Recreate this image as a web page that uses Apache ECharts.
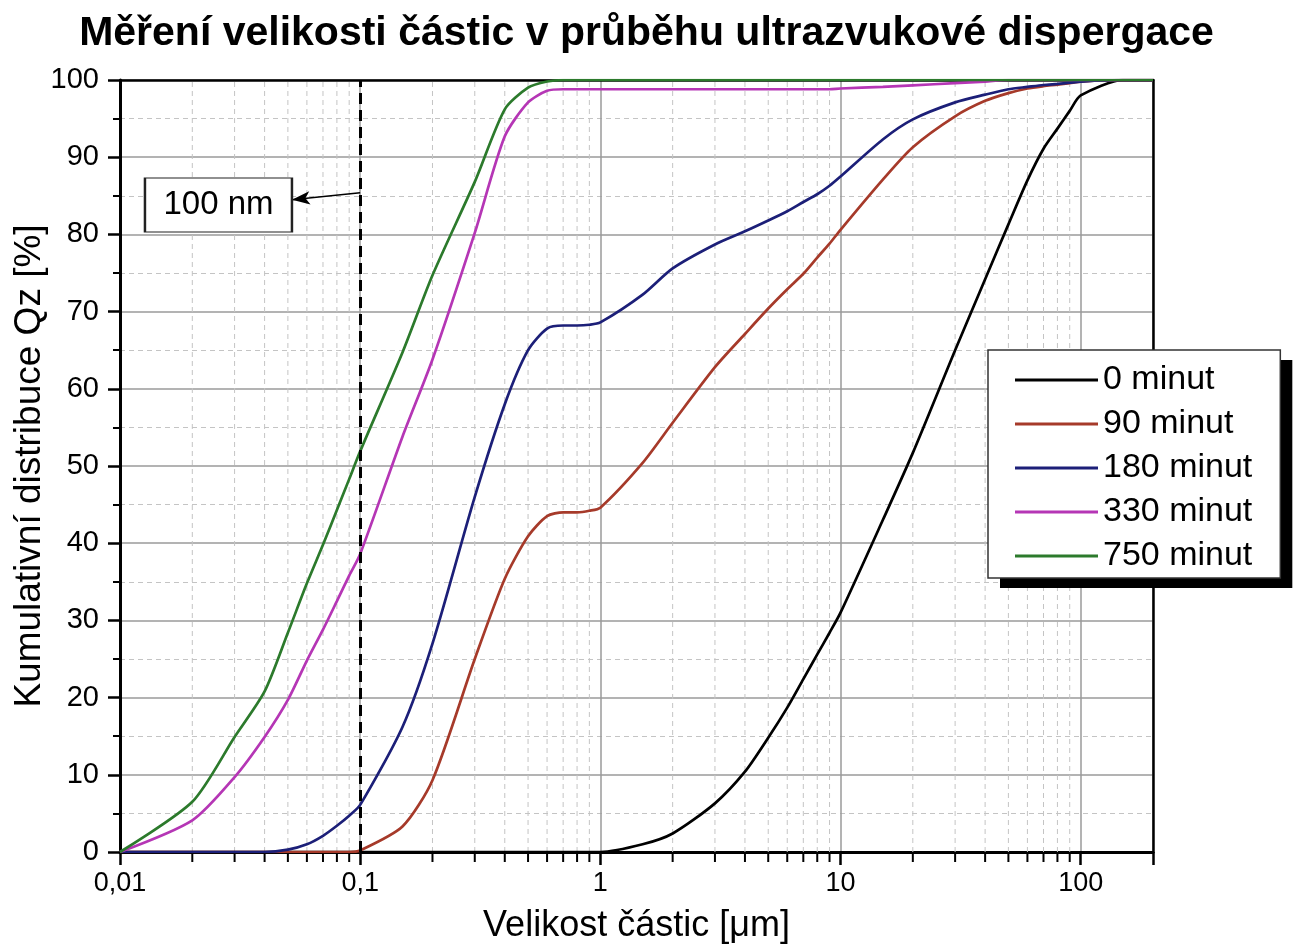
<!DOCTYPE html>
<html>
<head>
<meta charset="utf-8">
<title>Měření velikosti částic v průběhu ultrazvukové dispergace</title>
<script src="https://cdn.jsdelivr.net/npm/echarts@6/dist/echarts.min.js"></script>
<style>
  html, body { margin: 0; padding: 0; background: #fff; }
  #chart { width: 1293px; height: 952px; }
</style>
</head>
<body>
<div id="chart"></div>
<script>
// Particle size classes [µm]
const sizes = [0.01, 0.02, 0.03, 0.04, 0.05, 0.06, 0.07, 0.08, 0.09, 0.1,
  0.15, 0.2, 0.3, 0.4, 0.5, 0.6, 0.7, 0.8, 0.9, 1,
  1.5, 2, 3, 4, 5, 6, 7, 8, 9, 10,
  15, 20, 30, 40, 50, 60, 70, 80, 90, 100,
  150, 200];

// Cumulative distribution Qz [%] after each dispersion time
const q0 = [0, 0, 0, 0, 0, 0, 0, 0, 0, 0,
  0, 0, 0, 0, 0, 0, 0, 0, 0, 0,
  1.0, 2.4, 6.3, 10.4, 14.8, 18.7, 22.4, 25.6, 28.4, 31.0,
  43.0, 51.7, 65.0, 74.2, 81.3, 87.0, 91.1, 93.7, 96.0, 98.0,
  100, 100];
const q90 = [0, 0, 0, 0, 0, 0, 0, 0, 0, 0.2,
  3.3, 9.3, 25.0, 35.4, 40.9, 43.5, 44.0, 44.0, 44.2, 44.6,
  50.4, 55.6, 62.8, 67.1, 70.4, 72.9, 74.9, 77.0, 78.8, 80.6,
  87.1, 91.3, 95.3, 97.3, 98.3, 98.9, 99.2, 99.4, 99.6, 99.8,
  100, 100];
const q180 = [0, 0, 0, 0, 0.3, 1.0, 2.1, 3.4, 4.7, 6.1,
  16.2, 27.0, 46.0, 58.0, 65.0, 67.8, 68.2, 68.2, 68.3, 68.6,
  72.2, 75.6, 78.7, 80.4, 81.8, 83.0, 84.2, 85.2, 86.3, 87.5,
  92.3, 94.9, 97.1, 98.1, 98.8, 99.1, 99.35, 99.5, 99.65, 99.8,
  100, 100];
const q330 = [0, 4.1, 9.7, 14.9, 19.7, 24.8, 28.8, 32.5, 35.8, 38.6,
  53.8, 63.8, 80.2, 92.7, 97.1, 98.6, 98.8, 98.8, 98.8, 98.8,
  98.8, 98.8, 98.8, 98.8, 98.8, 98.8, 98.8, 98.8, 98.8, 98.9,
  99.1, 99.3, 99.6, 99.8, 100, 100, 100, 100, 100, 100,
  100, 100];
const q750 = [0, 6.5, 14.9, 20.8, 28.4, 34.8, 39.8, 44.3, 48.3, 51.9,
  64.7, 74.7, 86.8, 96.2, 99.0, 99.8, 100, 100, 100, 100,
  100, 100, 100, 100, 100, 100, 100, 100, 100, 100,
  100, 100, 100, 100, 100, 100, 100, 100, 100, 100,
  100, 100];

const seriesNames = ['0 minut', '90 minut', '180 minut', '330 minut', '750 minut'];
const seriesValues = [q0, q90, q180, q330, q750];
const seriesColors = ['#000000', '#a63a2a', '#1c1f78', '#b536b5', '#2c7a2c'];

// Intermediate decade positions for the dashed minor grid
const minorSizes = [0.02, 0.03, 0.04, 0.05, 0.06, 0.07, 0.08, 0.09,
  0.2, 0.3, 0.4, 0.5, 0.6, 0.7, 0.8, 0.9,
  2, 3, 4, 5, 6, 7, 8, 9,
  20, 30, 40, 50, 60, 70, 80, 90];

// Marker for the 100 nm boundary and its callout
const boundarySize = 0.1;
const calloutArrow = [[0.1, 85.4], [0.052, 84.5]];
const calloutBox = [0.0257, 83.8];
const calloutText = '100 nm';

const FONT = '"Liberation Sans", Arial, Helvetica, sans-serif';

function decadeLabel(v) {
  const e = Math.round(Math.log10(v));
  if (Math.abs(Math.log10(v) - e) > 1e-6) return '';
  if (e < 0) return '0,' + '0'.repeat(-e - 1) + '1';
  return String(Math.pow(10, e));
}

function renderMinor(params, api) {
  const v = api.value(0);
  const bot = api.coord([v, 0]);
  const top = api.coord([v, 100]);
  return {
    type: 'group',
    children: [
      { type: 'line', shape: { x1: bot[0], y1: bot[1], x2: top[0], y2: top[1] },
        style: { stroke: '#c4c4c4', lineWidth: 1, lineDash: [5, 4] } },
      { type: 'line', shape: { x1: bot[0], y1: bot[1], x2: bot[0], y2: bot[1] + 10 },
        style: { stroke: '#000', lineWidth: 2 } }
    ]
  };
}

const chart = echarts.init(document.getElementById('chart'), null, { renderer: 'canvas' });

const lineSeries = seriesNames.map((name, k) => ({
  name: name,
  type: 'line',
  data: sizes.map((x, i) => [x, seriesValues[k][i]]),
  color: seriesColors[k],
  symbol: 'none',
  showSymbol: false,
  smooth: 0.25,
  z: 3,
  lineStyle: { width: 2.7, color: seriesColors[k] }
}));

// Shared legend layout; the second copy is a solid block drawn behind as a drop shadow
const legendBase = {
  orient: 'vertical',
  data: seriesNames,
  icon: 'rect',
  itemWidth: 83,
  itemHeight: 3,
  itemGap: 10,
  padding: [13, 28, 5, 27],
  borderRadius: 0,
  selectedMode: false,
  textStyle: { fontFamily: FONT, fontSize: 34, color: '#000', lineHeight: 34 }
};

const option = {
  animation: false,
  backgroundColor: '#fff',
  textStyle: { fontFamily: FONT },
  title: {
    text: 'Měření velikosti částic v průběhu ultrazvukové dispergace',
    left: 'center',
    top: 8,
    textStyle: { fontFamily: FONT, fontSize: 41, fontWeight: 'bold', color: '#000' }
  },
  grid: { left: 120, right: 140, top: 80, bottom: 100, containLabel: false, outerBoundsMode: 'none' },
  legend: [
    Object.assign({}, legendBase, {
      left: 1000,
      top: 360,
      z: 3,
      backgroundColor: '#000',
      borderWidth: 0,
      itemStyle: { opacity: 0 },
      lineStyle: { opacity: 0 },
      textStyle: Object.assign({}, legendBase.textStyle, { color: 'rgba(0,0,0,0)' })
    }),
    Object.assign({}, legendBase, {
      left: 988,
      top: 350,
      z: 4,
      backgroundColor: '#fff',
      borderColor: '#333',
      borderWidth: 1.5
    })
  ],
  xAxis: [{
    type: 'log',
    logBase: 10,
    min: 0.01,
    max: 200,
    name: 'Velikost částic [μm]',
    nameLocation: 'middle',
    nameGap: 56,
    nameMoveOverlap: false,
    nameTextStyle: { fontFamily: FONT, fontSize: 36, color: '#000' },
    axisLine: { show: true, onZero: false, lineStyle: { color: '#000', width: 3 } },
    axisTick: { show: true, length: 13, lineStyle: { color: '#000', width: 2.5 } },
    axisLabel: { formatter: decadeLabel, fontFamily: FONT, fontSize: 27, color: '#000', margin: 18 },
    splitLine: { show: true, lineStyle: { color: '#9a9a9a', width: 1.5 } }
  }, {
    type: 'log',
    logBase: 10,
    min: 0.01,
    max: 200,
    position: 'top',
    axisLine: { show: true, onZero: false, lineStyle: { color: '#000', width: 2.5 } },
    axisTick: { show: false },
    axisLabel: { show: false },
    splitLine: { show: false }
  }],
  yAxis: [{
    type: 'value',
    min: 0,
    max: 100,
    interval: 10,
    name: 'Kumulativní distribuce Qz [%]',
    nameLocation: 'middle',
    nameGap: 72,
    nameMoveOverlap: false,
    nameTextStyle: { fontFamily: FONT, fontSize: 37, color: '#000' },
    axisLine: { show: true, lineStyle: { color: '#000', width: 3 } },
    axisTick: { show: true, length: 12, lineStyle: { color: '#000', width: 2.5 } },
    minorTick: { show: true, splitNumber: 2, length: 7, lineStyle: { color: '#000', width: 2 } },
    minorSplitLine: { show: true, lineStyle: { color: '#c4c4c4', type: [5, 4], width: 1 } },
    splitLine: { show: true, lineStyle: { color: '#9a9a9a', width: 1.5 } },
    axisLabel: { fontFamily: FONT, fontSize: 29, color: '#000', margin: 21 }
  }, {
    type: 'value',
    min: 0,
    max: 100,
    position: 'right',
    axisLine: { show: true, lineStyle: { color: '#000', width: 2.5 } },
    axisTick: { show: false },
    axisLabel: { show: false },
    splitLine: { show: false }
  }],
  series: [{
    type: 'custom',
    silent: true,
    clip: false,
    z: 1,
    renderItem: renderMinor,
    data: minorSizes.map(v => [v, 0]),
    encode: { x: 0, y: 1 },
    markLine: {
      silent: true,
      animation: false,
      label: { show: false },
      symbolSize: [10, 18],
      data: [
        [{ coord: [boundarySize, 0], symbol: 'none',
           lineStyle: { color: '#000', width: 3, type: [11, 6] } },
         { coord: [boundarySize, 100], symbol: 'none' }],
        [{ coord: calloutArrow[0], symbol: 'none',
           lineStyle: { color: '#000', width: 1.5, type: 'solid' } },
         { coord: calloutArrow[1], symbol: 'arrow', symbolSize: [10, 18] }]
      ]
    },
    markPoint: {
      silent: true,
      animation: false,
      data: [{
        coord: calloutBox,
        symbol: 'rect',
        symbolSize: [147, 54],
        itemStyle: { color: '#fff', borderColor: '#222', borderWidth: 1.5 },
        label: { show: true, position: 'inside', formatter: calloutText,
                 fontFamily: FONT, fontSize: 33, color: '#000' }
      }]
    }
  }].concat(lineSeries)
};

chart.setOption(option);
</script>
</body>
</html>
